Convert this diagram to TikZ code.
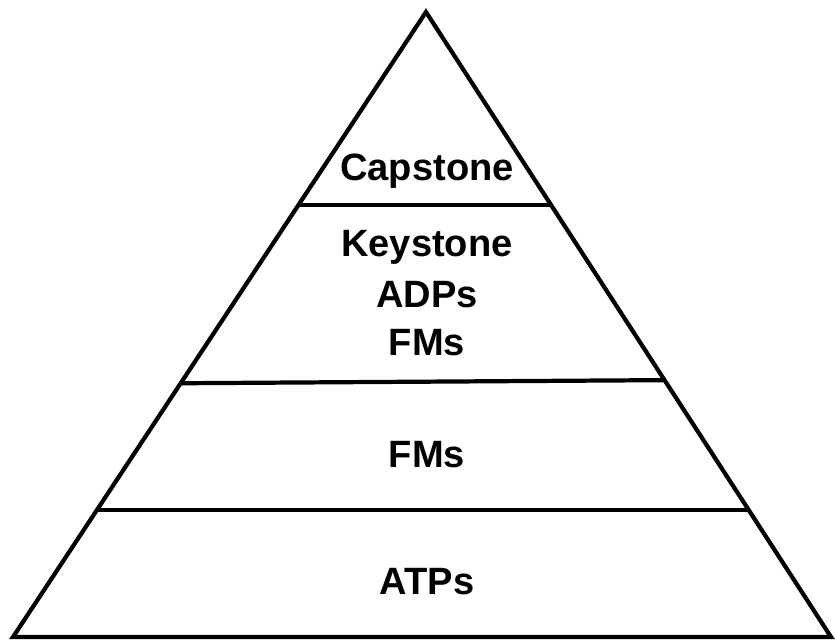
\documentclass[tikz,border=0pt]{standalone}
\usepackage{fontspec}
\setmainfont{Liberation Sans}
\usetikzlibrary{calc}

\begin{document}
\begin{tikzpicture}[x=0.03cm, y=-0.03cm, line width=3.6pt,
    tier/.style={font=\fontsize{32.5}{39}\selectfont\bfseries, anchor=base, inner sep=0pt}]
            \useasboundingbox (0,0) rectangle (835,642);

            \coordinate (apex) at (426,12);
            \coordinate (left) at (13,637);
            \coordinate (right) at (831,637);
            \draw (apex) -- (right) -- (left) -- cycle;

            % tier boundaries
            \draw ($(apex)!0.309!(left)$) -- ($(apex)!0.309!(right)$);
            \draw ($(apex)!0.594!(left)$) -- ($(apex)!0.589!(right)$);
            \draw ($(apex)!0.797!(left)$) -- ($(apex)!0.797!(right)$);

            \node (cap) at (427,180) [tier] {Capstone};
            \node (key) at (427,256) [tier] {Keystone};
            \node (adp) at (427,307) [tier] {ADPs};
            \node (fm1) at (427,355) [tier] {FMs};
            \node (fm2) at (427,467) [tier] {FMs};
            \node (atp) at (427,594) [tier] {ATPs};
        \end{tikzpicture}
\end{document}
